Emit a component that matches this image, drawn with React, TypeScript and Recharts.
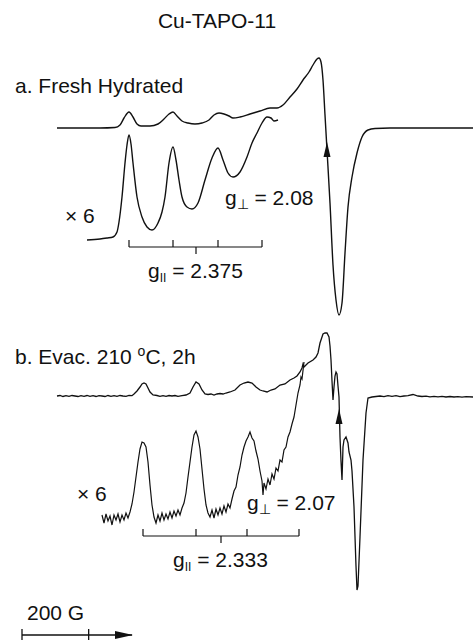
import { Line, LineChart, ReferenceDot, ReferenceLine, XAxis, YAxis } from "recharts";

// EPR spectra of Cu-TAPO-11. Field in gauss, signal in arbitrary units
// (0 = baseline of that trace). The x6 traces are the low-field part blown up.
type Pt = [number, number];

const freshSpectrum: Pt[] = [
  [2571, 0], [2700, 0], [2745, 0.5], [2760, 3], [2772, 10], [2787, 16], [2799, 11],
  [2811, 4], [2823, 2], [2850, 2], [2874, 4], [2892, 9], [2907, 14], [2919, 16],
  [2931, 12], [2946, 7], [2964, 5], [2985, 4], [3006, 5], [3027, 8], [3042, 13],
  [3057, 15], [3072, 14], [3087, 12], [3099, 10], [3120, 11], [3150, 14], [3180, 17],
  [3210, 20], [3231, 20], [3249, 23], [3270, 31], [3291, 39], [3309, 48], [3327, 56],
  [3339, 63], [3351, 69], [3357, 70], [3363, 66], [3369, 48], [3375, 13], [3381, -22],
  [3390, -75], [3399, -137], [3408, -172], [3417, -187], [3426, -175], [3435, -125],
  [3444, -79], [3456, -49], [3471, -25], [3486, -9], [3504, -2], [3525, -0.5],
  [3570, 0], [3819, 0],
];

const freshExpanded: Pt[] = [
  [2661, 0], [2700, 1], [2721, 2], [2739, 3], [2751, 8], [2757, 18], [2766, 43],
  [2775, 77], [2781, 95], [2787, 105], [2793, 96], [2799, 77], [2811, 43], [2826, 23],
  [2841, 13], [2856, 10], [2874, 17], [2886, 28], [2895, 43], [2907, 77], [2919, 93],
  [2928, 80], [2937, 60], [2946, 43], [2961, 33], [2976, 31], [2994, 37], [3015, 60],
  [3036, 82], [3054, 92], [3069, 80], [3084, 67], [3099, 63], [3120, 68], [3141, 83],
  [3156, 97], [3171, 107], [3186, 117], [3201, 123], [3213, 122], [3222, 119], [3234, 120],
];

const evacSpectrum: Pt[] = [
  [2571, 0], [2580, 0.5], [2589, -0.5], [2598, 0.3], [2607, -0.4], [2616, 0.5],
  [2625, 0], [2634, -0.5], [2643, 0.4], [2652, -0.3], [2661, 0.5], [2670, -0.4],
  [2679, 0.3], [2688, -0.5], [2697, 0.4], [2706, 0], [2715, -0.5], [2724, 0.5],
  [2733, -0.3], [2742, 0.4], [2751, -0.4], [2760, 0.5], [2769, 0], [2778, -0.4],
  [2787, 0.5], [2796, 0.3], [2802, 2], [2811, 5], [2820, 9], [2826, 12], [2832, 13],
  [2838, 12], [2844, 8], [2850, 4], [2859, 1], [2871, 0.5], [2880, -0.3], [2889, 0.4],
  [2898, -0.3], [2907, 0.5], [2916, 0], [2925, 0.5], [2934, -0.3], [2946, 0.4],
  [2958, 1], [2970, 3], [2979, 9], [2988, 14], [2997, 12], [3006, 6], [3015, 2],
  [3024, 1.5], [3033, 2], [3042, 1], [3051, 2], [3060, 2.5], [3069, 2], [3078, 3],
  [3090, 4], [3105, 6], [3120, 11], [3132, 13], [3144, 14], [3156, 13], [3168, 9],
  [3180, 6], [3189, 5], [3201, 4], [3213, 6], [3225, 7], [3240, 11], [3255, 12],
  [3270, 16], [3282, 18], [3291, 20], [3300, 24], [3306, 28], [3309, 32], [3312, 29],
  [3324, 33], [3339, 36], [3348, 39], [3354, 43], [3360, 53], [3366, 59], [3369, 62],
  [3375, 63], [3381, 63], [3387, 59], [3390, 50], [3393, 36], [3396, 15], [3399, -4],
  [3402, 9], [3405, 20], [3408, 24], [3411, 22], [3414, 10], [3417, -1], [3420, -41],
  [3423, -65], [3426, -84], [3429, -51], [3432, -44], [3438, -41], [3444, -47],
  [3447, -56], [3453, -64], [3456, -75], [3462, -111], [3468, -170], [3471, -194],
  [3474, -190], [3480, -141], [3489, -64], [3498, -17], [3504, -2], [3516, -1],
  [3528, -0.5], [3540, 0], [3552, -0.6], [3564, 0.4], [3576, -0.3], [3588, 0.3],
  [3600, -0.6], [3612, 0], [3624, 0.3], [3639, 1.5], [3654, 0], [3666, -0.5],
  [3678, -0.2], [3690, -0.8], [3702, -0.3], [3714, -0.9], [3726, -0.4], [3738, -1],
  [3750, -0.5], [3762, -1], [3774, -0.6], [3786, -1.1], [3798, -0.7], [3819, -1],
];

const evacExpanded: Pt[] = [
  [2706, 2], [2712, -6], [2718, 3], [2724, -4], [2730, 1], [2736, -8], [2742, 2],
  [2748, -3], [2754, 3], [2760, -5], [2766, 2], [2772, -3], [2778, 4], [2784, -1],
  [2790, 5], [2796, 13], [2802, 25], [2808, 40], [2814, 55], [2820, 68], [2826, 75],
  [2832, 74], [2838, 70], [2844, 55], [2850, 32], [2856, 12], [2862, 0], [2868, -6],
  [2874, 2], [2880, -4], [2886, 4], [2892, -3], [2898, 3], [2904, -2], [2910, 5],
  [2916, -1], [2922, 6], [2928, 1], [2934, 7], [2940, 2], [2946, 9], [2952, 14],
  [2958, 24], [2964, 40], [2970, 55], [2976, 70], [2982, 82], [2988, 86], [2994, 80],
  [3000, 68], [3006, 48], [3012, 28], [3018, 12], [3024, 4], [3030, 0], [3036, 7],
  [3042, -1], [3048, 8], [3054, 2], [3060, 9], [3066, 3], [3072, 11], [3078, 5],
  [3084, 13], [3090, 9], [3096, 18], [3102, 26], [3108, 30], [3114, 42], [3120, 50],
  [3126, 62], [3132, 70], [3138, 76], [3144, 80], [3150, 85], [3156, 79], [3162, 76],
  [3168, 66], [3174, 58], [3180, 46], [3186, 36], [3189, 22], [3192, 34], [3198, 28],
  [3204, 38], [3210, 32], [3216, 43], [3222, 38], [3228, 49], [3234, 46], [3240, 57],
  [3246, 55], [3252, 67], [3258, 70], [3264, 80], [3270, 85], [3276, 93], [3282, 100],
  [3288, 112], [3294, 124], [3300, 132], [3303, 140], [3306, 138], [3312, 155],
];

// hyperfine stick positions (g parallel) and g perpendicular markers, gauss
const freshParallel = [2787, 2919, 3054, 3186];
const evacParallel = [2829, 2988, 3141, 3297];
const freshParallelCentre = 2988;
const evacParallelCentre = 3063;
const freshPerp = 3381;
const evacPerp = 3417;
const scaleStart = 2466;
const scaleLength = 200;

const W = 473;
const H = 640;
const INK = "#111";
const FONT = "'Liberation Sans', Arial, Helvetica, sans-serif";

const rows = (pts: Pt[], offset: number) => pts.map(([b, s]) => ({ b, y: offset + s }));

const seg = (key: string, x1: number, y1: number, x2: number, y2: number, w = 1.2) => (
  <ReferenceLine
    key={key}
    segment={[{ x: x1, y: y1 }, { x: x2, y: y2 }]}
    stroke={INK}
    strokeWidth={w}
    ifOverflow="visible"
  />
);

function sticks(id: string, lines: number[], centre: number, y: number) {
  const out = [seg(`${id}-h`, lines[0], y, lines[lines.length - 1], y)];
  lines.forEach((b, i) => out.push(seg(`${id}-t${i}`, b, y, b, y + 7)));
  out.push(seg(`${id}-c`, centre, y, centre, y - 7));
  return out;
}

const upHead = (p: any) => (
  <path d={`M${p.cx},${p.cy - 8} L${p.cx - 3.5},${p.cy + 7} L${p.cx + 3.5},${p.cy + 7} Z`} fill={INK} />
);
const rightHead = (p: any) => (
  <path d={`M${p.cx},${p.cy} L${p.cx - 18},${p.cy - 4} L${p.cx - 18},${p.cy + 4} Z`} fill={INK} />
);

const trace = (key: string, data: { b: number; y: number }[], smooth: boolean, w: number) => (
  <Line
    key={key}
    data={data}
    dataKey="y"
    type={smooth ? "monotone" : "linear"}
    stroke={INK}
    strokeWidth={w}
    dot={false}
    activeDot={false}
    isAnimationActive={false}
  />
);

export default function App() {
  return (
    <div style={{ position: "absolute", left: 0, top: 0, width: W, height: H, background: "#fff" }}>
      <LineChart width={W} height={H} margin={{ top: 0, right: 0, bottom: 0, left: 0 }}>
        <XAxis dataKey="b" type="number" domain={[2400, 2400 + 3 * W]} hide allowDataOverflow />
        <YAxis type="number" domain={[0, H]} hide allowDataOverflow />
        {trace("fresh", rows(freshSpectrum, 512), true, 1.4)}
        {trace("fresh6", rows(freshExpanded, 400), true, 1.4)}
        {trace("evac", rows(evacSpectrum, 244), false, 1.3)}
        {trace("evac6", rows(evacExpanded, 123), false, 1.2)}
        {sticks("fa", freshParallel, freshParallelCentre, 393)}
        {sticks("ev", evacParallel, evacParallelCentre, 104)}
        <ReferenceDot x={freshPerp} y={490} r={0} shape={upHead} ifOverflow="visible" />
        <ReferenceDot x={evacPerp} y={223} r={0} shape={upHead} ifOverflow="visible" />
        {seg("sb", scaleStart, 5, scaleStart + 330, 5, 1.3)}
        {seg("sb0", scaleStart, 0, scaleStart, 11, 1.3)}
        {seg("sb1", scaleStart + scaleLength, 0, scaleStart + scaleLength, 11, 1.3)}
        <ReferenceDot x={scaleStart + 333} y={5} r={0} shape={rightHead} ifOverflow="visible" />
      </LineChart>
      <svg
        width={W}
        height={H}
        style={{ position: "absolute", left: 0, top: 0, pointerEvents: "none" }}
        fontFamily={FONT}
        fill={INK}
        fontSize={21}
      >
        <text x={217} y={28} textAnchor="middle">Cu-TAPO-11</text>
        <text x={15} y={93}>a. Fresh Hydrated</text>
        <text x={65} y={223}>× 6</text>
        <text x={225} y={205}>
          g<tspan fontSize={14} dy={4}>⊥</tspan>
          <tspan dy={-4}> = 2.08</tspan>
        </text>
        <text x={148} y={278}>
          g<tspan fontSize={12} dy={4}>II</tspan>
          <tspan dy={-4}> = 2.375</tspan>
        </text>
        <text x={15} y={364}>
          b. Evac. 210 <tspan fontSize={14} dy={-8}>o</tspan>
          <tspan dy={8}>C, 2h</tspan>
        </text>
        <text x={77} y={501}>× 6</text>
        <text x={247} y={510}>
          g<tspan fontSize={14} dy={4}>⊥</tspan>
          <tspan dy={-4}> = 2.07</tspan>
        </text>
        <text x={173} y={567}>
          g<tspan fontSize={12} dy={4}>II</tspan>
          <tspan dy={-4}> = 2.333</tspan>
        </text>
        <text x={27} y={620}>200 G</text>
      </svg>
    </div>
  );
}
